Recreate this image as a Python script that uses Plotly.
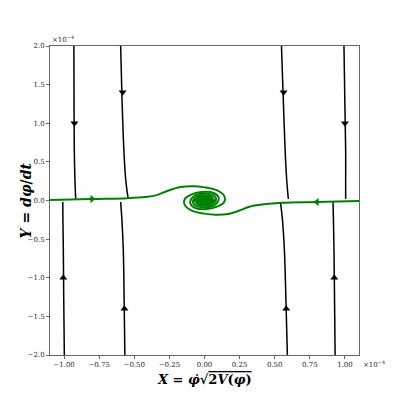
import plotly.graph_objects as go

# values in units of 1e-4 (axis offset shown as x10^-4)

# ── black streamlines coming down from the top ──────────────────
top_y = [2.0, 1.3, 0.65, 0.25, 0.02]
top_lines_x = [
    [-0.930, -0.929, -0.927, -0.922, -0.917],
    [-0.597, -0.587, -0.574, -0.560, -0.543],
    [0.548, 0.561, 0.574, 0.586, 0.597],
    [0.993, 0.999, 1.005, 1.005, 1.005],
]
# ── black streamlines coming up from the bottom ─────────────────
bot_y = [-2.0, -1.3, -0.65, -0.25, -0.02]
bot_lines_x = [
    [-0.998, -1.002, -1.005, -1.008, -1.009],
    [-0.567, -0.572, -0.578, -0.588, -0.597],
    [0.590, 0.580, 0.569, 0.555, 0.541],
    [0.930, 0.926, 0.922, 0.918, 0.915],
]

# arrow heads on the black lines
arrow_down_x = [-0.926, -0.583, 0.563, 1.000]
arrow_down_y = [1.0, 1.4, 1.4, 1.0]
arrow_up_x = [-1.005, -0.570, 0.582, 0.924]
arrow_up_y = [-1.0, -1.4, -1.4, -1.0]

# ── green separatrix, left branch spiralling into the origin ────
left_x = [-1.10, -0.81, -0.55, -0.42, -0.34, -0.26, -0.17, -0.08, 0.00,
          0.09, 0.14, 0.14, 0.09, 0.02, -0.06, -0.10, -0.09, -0.04,
          0.03, 0.075, 0.08, 0.05, 0.0]
left_y = [0.005, 0.02, 0.03, 0.045, 0.07, 0.127, 0.175, 0.185, 0.17,
          0.13, 0.06, -0.02, -0.08, -0.11, -0.10, -0.04, 0.03, 0.08,
          0.085, 0.05, -0.005, -0.05, -0.065]
# right branch (from the right edge, dipping below the axis)
right_x = [1.10, 0.80, 0.55, 0.42, 0.32, 0.25, 0.17, 0.08, 0.00,
           -0.09, -0.14, -0.14, -0.09, -0.02, 0.06, 0.10, 0.09, 0.04,
           -0.03, -0.075, -0.08, -0.05, 0.0]
right_y = [-0.005, -0.02, -0.03, -0.05, -0.08, -0.13, -0.175, -0.185, -0.17,
           -0.13, -0.06, 0.02, 0.08, 0.11, 0.10, 0.04, -0.03, -0.08,
           -0.085, -0.05, 0.005, 0.05, 0.065]
# densely wound core around the focus
core_x = [0.07, 0.05, 0.0, -0.05, -0.07, -0.05, 0.0, 0.05, 0.07]
core_y = [0.0, 0.05, 0.07, 0.05, 0.0, -0.05, -0.07, -0.05, 0.0]

green_arrow_x = [-0.80, 0.80]
green_arrow_y = [0.02, -0.02]

x_ticks = [-1.0, -0.75, -0.5, -0.25, 0.0, 0.25, 0.5, 0.75, 1.0]
y_ticks = [-2.0, -1.5, -1.0, -0.5, 0.0, 0.5, 1.0, 1.5, 2.0]

GREEN = "#008000"
SERIF = "DejaVu Serif"

fig = go.Figure()

for xs in top_lines_x:
    fig.add_trace(go.Scatter(x=xs, y=top_y, mode="lines", line=dict(color="black", width=1.5), line_shape="spline"))
for xs in bot_lines_x:
    fig.add_trace(go.Scatter(x=xs, y=bot_y, mode="lines", line=dict(color="black", width=1.5), line_shape="spline"))

fig.add_trace(go.Scatter(x=arrow_down_x, y=arrow_down_y, mode="markers",
                         marker=dict(symbol="triangle-down", size=7, color="black")))
fig.add_trace(go.Scatter(x=arrow_up_x, y=arrow_up_y, mode="markers",
                         marker=dict(symbol="triangle-up", size=7, color="black")))

fig.add_trace(go.Scatter(x=core_x, y=core_y, mode="lines", fill="toself", fillcolor=GREEN,
                         line=dict(color=GREEN, width=1.5), line_shape="spline"))
fig.add_trace(go.Scatter(x=left_x, y=left_y, mode="lines", line=dict(color=GREEN, width=2), line_shape="spline"))
fig.add_trace(go.Scatter(x=right_x, y=right_y, mode="lines", line=dict(color=GREEN, width=2), line_shape="spline"))
fig.add_trace(go.Scatter(x=green_arrow_x[:1], y=green_arrow_y[:1], mode="markers",
                         marker=dict(symbol="triangle-right", size=7, color=GREEN)))
fig.add_trace(go.Scatter(x=green_arrow_x[1:], y=green_arrow_y[1:], mode="markers",
                         marker=dict(symbol="triangle-left", size=7, color=GREEN)))

axis_common = dict(
    showgrid=False, zeroline=False, showline=True, mirror=True,
    linecolor="#666", linewidth=1, ticks="outside", ticklen=3, tickcolor="#666",
    tickfont=dict(family=SERIF, size=7, color="#222"),
)

fig.update_xaxes(range=[-1.1, 1.1], tickvals=x_ticks, tickformat=".2f", **axis_common)
fig.update_yaxes(range=[-2.0, 2.0], tickvals=y_ticks, tickformat=".1f", **axis_common)

# the page body adds an 8px offset, so margins are shifted to compensate
fig.update_layout(
    width=399, height=399,
    margin=dict(l=42, r=48, t=38, b=52),
    paper_bgcolor="white", plot_bgcolor="white",
    showlegend=False,
    annotations=[
        dict(text="×10<sup>−4</sup>", xref="paper", yref="paper", x=0.0, y=1.0,
             xanchor="left", yanchor="bottom", showarrow=False,
             font=dict(family=SERIF, size=7, color="#222")),
        dict(text="×10<sup>−4</sup>", xref="paper", yref="paper", x=1.005, y=-0.005,
             xanchor="left", yanchor="top", showarrow=False,
             font=dict(family=SERIF, size=7, color="#222")),
        dict(text="<b><i>X</i> = <i>φ&#775;</i>√<span style='text-decoration:overline'>2<i>V</i>(<i>φ</i>)</span></b>",
             xref="paper", yref="paper", x=0.5, y=-0.078,
             xanchor="center", yanchor="middle", showarrow=False,
             font=dict(family=SERIF, size=13, color="black")),
        dict(text="<b><i>Y</i> = <i>dφ</i>/<i>dt</i></b>",
             xref="paper", yref="paper", x=-0.078, y=0.5, textangle=-90,
             xanchor="center", yanchor="middle", showarrow=False,
             font=dict(family=SERIF, size=14, color="black")),
    ],
)

fig.write_html("out.html")
